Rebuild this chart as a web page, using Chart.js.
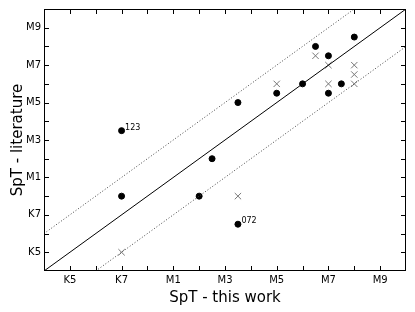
<!DOCTYPE html>
<html>
<head>
<meta charset="utf-8">
<script src="https://cdn.jsdelivr.net/npm/chart.js@4.4.1/dist/chart.umd.min.js"></script>
<style>
  html, body { margin: 0; padding: 0; background: #fff; }
  #wrap { width: 415px; height: 312px; }
</style>
</head>
<body>
<div id="wrap"><canvas id="chart" width="415" height="312"></canvas></div>
<script>
Chart.defaults.font.family = '"DejaVu Sans", sans-serif';
Chart.defaults.color = '#000';

// spectral type scale: K5=-3, K7=-1, M0=0, M1=1 ...
const AXIS_MIN = -4;
const AXIS_MAX = 10;
const tickValues = [-3, -1, 1, 3, 5, 7, 9];
const tickLabels = ['K5', 'K7', 'M1', 'M3', 'M5', 'M7', 'M9'];

// filled circles
const dotX = [-1, -1, 2, 2.5, 3.5, 3.5, 5, 6, 6.5, 7, 7, 7.5, 8];
const dotY = [0, 3.5, 0, 2, 5, -1.5, 5.5, 6, 8, 7.5, 5.5, 6, 8.5];
const dotNames = ['', '123', '', '', '', '072', '', '', '', '', '', '', ''];

// crosses
const crossX = [-1, 3.5, 5, 6.5, 7, 7, 8, 8, 8];
const crossY = [-3, 0, 6, 7.5, 7, 6, 7, 6.5, 6];

// one-to-one line and +/- 2 subtype band
const oneToOne = [[-4, -4], [10, 10]];
const upperBand = [[-4, -2], [8, 10]];
const lowerBand = [[-2, -4], [10, 8]];

const toPts = (xs, ys) => xs.map((x, i) => ({ x: x, y: ys[i] }));
const pairPts = (arr) => arr.map(p => ({ x: p[0], y: p[1] }));

// frame + inward tick marks on all four sides, plus point labels
const framePlugin = {
    id: 'frame',
    afterDraw(chart) {
        const { ctx, chartArea, scales } = chart;
        const L = chartArea.left, R = chartArea.right, T = chartArea.top, B = chartArea.bottom;
        ctx.save();
        ctx.fillStyle = '#000';
        ctx.fillRect(L, T, R - L, 1);
        ctx.fillRect(L, B - 1, R - L, 1);
        ctx.fillRect(L, T, 1, B - T);
        ctx.fillRect(R - 1, T, 1, B - T);
        const len = 5;
        for (let v = AXIS_MIN + 1; v < AXIS_MAX; v++) {
            const px = Math.round(scales.x.getPixelForValue(v));
            const py = Math.round(scales.y.getPixelForValue(v));
            ctx.fillRect(px, B - len, 1, len);
            ctx.fillRect(px, T, 1, len);
            ctx.fillRect(L, py, len, 1);
            ctx.fillRect(R - len, py, len, 1);
        }

        // names next to a few points
        const meta = chart.getDatasetMeta(3);
        ctx.font = '8px "DejaVu Sans", sans-serif';
        ctx.textBaseline = 'middle';
        meta.data.forEach((el, i) => {
            if (dotNames[i]) ctx.fillText(dotNames[i], el.x + 3.5, el.y - 3);
        });
        ctx.restore();
    }
};

const lineDs = (pts, dashed) => ({
    type: 'line',
    data: pairPts(pts),
    borderColor: dashed ? '#444' : '#000',
    borderWidth: 1,
    borderDash: dashed ? [1, 2] : [],
    pointRadius: 0,
    fill: false
});

new Chart(document.getElementById('chart'), {
    type: 'scatter',
    data: {
        datasets: [
            lineDs(oneToOne, false),
            lineDs(upperBand, true),
            lineDs(lowerBand, true),
            {
                data: toPts(dotX, dotY),
                pointStyle: 'circle',
                pointRadius: 3,
                borderWidth: 1,
                backgroundColor: '#000',
                borderColor: '#000'
            },
            {
                data: toPts(crossX, crossY),
                pointStyle: 'crossRot',
                pointRadius: 4.5,
                borderWidth: 1,
                borderColor: '#777',
                backgroundColor: '#777'
            }
        ]
    },
    options: {
        responsive: false,
        animation: false,
        layout: { padding: { top: 9, right: 9, left: 0, bottom: 0 } },
        plugins: { legend: { display: false }, tooltip: { enabled: false } },
        scales: {
            x: {
                type: 'linear',
                min: AXIS_MIN, max: AXIS_MAX,
                afterFit: (s) => { s.height = 41; },
                grid: { display: false, drawTicks: false },
                border: { display: false },
                ticks: {
                    stepSize: 1, autoSkip: false, maxRotation: 0, padding: 3,
                    font: { size: 10 },
                    callback: (v) => { const i = tickValues.indexOf(v); return i >= 0 ? tickLabels[i] : ''; }
                },
                title: { display: true, text: 'SpT - this work', font: { size: 15 }, padding: { top: 0, bottom: 5 } }
            },
            y: {
                type: 'linear',
                min: AXIS_MIN, max: AXIS_MAX,
                afterFit: (s) => { s.width = 44; },
                grid: { display: false, drawTicks: false },
                border: { display: false },
                ticks: {
                    stepSize: 1, autoSkip: false, padding: 3,
                    font: { size: 10 },
                    callback: (v) => { const i = tickValues.indexOf(v); return i >= 0 ? tickLabels[i] : ''; }
                },
                title: { display: true, text: 'SpT - literature', font: { size: 15 }, padding: { top: 9, bottom: 0 } }
            }
        }
    },
    plugins: [framePlugin]
});
</script>
</body>
</html>
